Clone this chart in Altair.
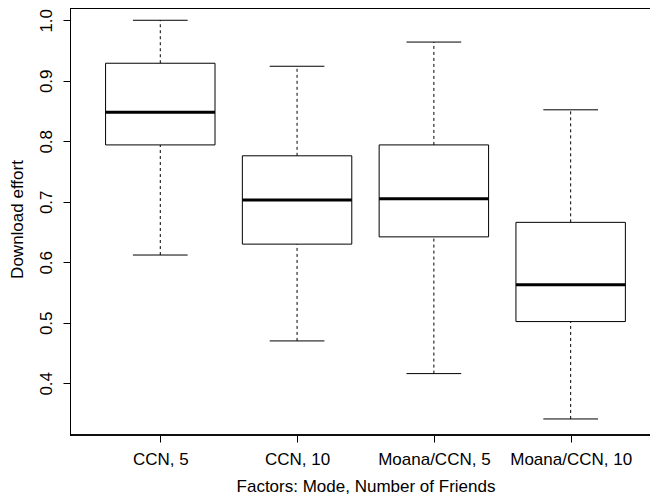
import json
import altair as alt
import pandas as pd

categories = ["CCN, 5", "CCN, 10", "Moana/CCN, 5", "Moana/CCN, 10"]
positions = [1, 2, 3, 4]
lower = [0.612, 0.470, 0.416, 0.341]
q1 = [0.794, 0.630, 0.642, 0.502]
median = [0.848, 0.703, 0.705, 0.563]
q3 = [0.929, 0.776, 0.794, 0.666]
upper = [1.000, 0.924, 0.964, 0.852]
y_ticks = [0.4, 0.5, 0.6, 0.7, 0.8, 0.9, 1.0]

df = pd.DataFrame({
    "cat": categories, "pos": positions, "lower": lower, "q1": q1,
    "median": median, "q3": q3, "upper": upper,
})

W, H = 580, 427
FONT = "Liberation Sans"
FS = 17

xscale = alt.Scale(domain=[0.34, 4.58], nice=False, zero=False)
yscale = alt.Scale(domain=[0.3145, 1.0203], nice=False, zero=False)

label_expr = json.dumps(categories) + "[datum.value - 1]"

xax = alt.Axis(values=positions, labelExpr=label_expr, domain=False, grid=False,
               tickSize=7, tickColor="black", tickWidth=1,
               labelFont=FONT, labelFontSize=FS, labelColor="black",
               labelBaseline="alphabetic", labelPadding=22, labelAlign="center",
               title="Factors: Mode, Number of Friends", titleFont=FONT,
               titleFontSize=FS, titleFontWeight="normal", titleColor="black",
               titleBaseline="alphabetic", titleY=56, titleX=295.5,
               titleAnchor="middle", titleAlign="center")
yax = alt.Axis(values=y_ticks, format=".1f", domain=False, grid=False,
               tickSize=7, tickColor="black", tickWidth=1,
               labelFont=FONT, labelFontSize=FS, labelColor="black",
               labelAngle=270, labelAlign="center", labelBaseline="alphabetic",
               labelPadding=12,
               title="Download effort", titleFont=FONT, titleFontSize=FS,
               titleFontWeight="normal", titleColor="black", titleAngle=270,
               titleBaseline="alphabetic", titleAlign="center", titleX=-48,
               titleY=211)

base = alt.Chart(df).transform_calculate(
    box_lo="datum.pos - 0.4", box_hi="datum.pos + 0.4",
    cap_lo="datum.pos - 0.2", cap_hi="datum.pos + 0.2",
)

whisk_lo = base.mark_rule(color="black", strokeWidth=1, strokeDash=[3, 3]).encode(
    x=alt.X("pos:Q", scale=xscale, axis=xax),
    y=alt.Y("lower:Q", scale=yscale, axis=yax),
    y2="q1:Q",
)
whisk_hi = base.mark_rule(color="black", strokeWidth=1, strokeDash=[3, 3]).encode(
    x=alt.X("pos:Q", scale=xscale),
    y=alt.Y("q3:Q", scale=yscale),
    y2="upper:Q",
)
cap_lo = base.mark_rule(color="black", strokeWidth=1).encode(
    x=alt.X("cap_lo:Q", scale=xscale), x2="cap_hi:Q",
    y=alt.Y("lower:Q", scale=yscale),
)
cap_hi = base.mark_rule(color="black", strokeWidth=1).encode(
    x=alt.X("cap_lo:Q", scale=xscale), x2="cap_hi:Q",
    y=alt.Y("upper:Q", scale=yscale),
)
boxes = base.mark_rect(fill="white", stroke="black", strokeWidth=1).encode(
    x=alt.X("box_lo:Q", scale=xscale), x2="box_hi:Q",
    y=alt.Y("q1:Q", scale=yscale), y2="q3:Q",
)
med = base.mark_rule(color="black", strokeWidth=3).encode(
    x=alt.X("box_lo:Q", scale=xscale), x2="box_hi:Q",
    y=alt.Y("median:Q", scale=yscale),
)

frame_left = alt.Chart(df).mark_rule(color="black", strokeWidth=1).encode(
    x=alt.value(0.5), y=alt.value(0), y2=alt.value(H))
frame_top = alt.Chart(df).mark_rule(color="black", strokeWidth=1).encode(
    x=alt.value(0), x2=alt.value(W), y=alt.value(0.5))
frame_bottom = alt.Chart(df).mark_rule(color="black", strokeWidth=1).encode(
    x=alt.value(0), x2=alt.value(W), y=alt.value(H))

chart = alt.layer(
    whisk_lo, whisk_hi, cap_lo, cap_hi, boxes, med,
    frame_left, frame_top, frame_bottom,
).properties(
    width=W, height=H,
    autosize=alt.AutoSizeParams(type="none"),
    padding={"left": 62, "top": 0, "right": 0, "bottom": 64},
    background="white",
).configure_view(stroke=None)

chart.save("out.html", embed_options={"renderer": "svg", "actions": False})
